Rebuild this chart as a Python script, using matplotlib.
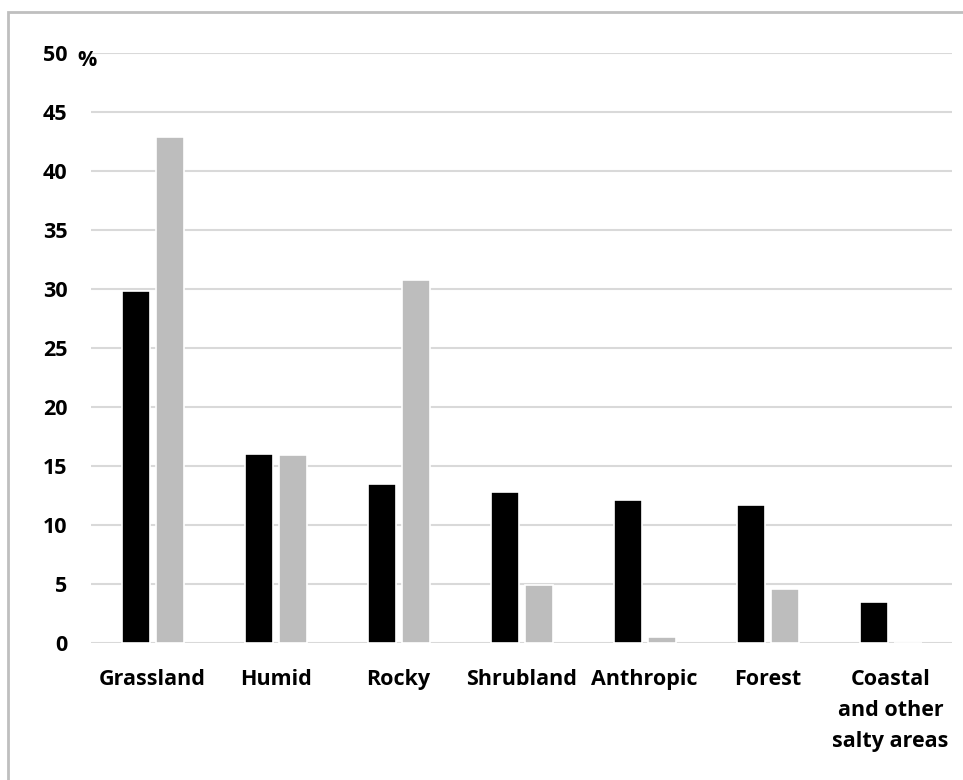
#!/usr/bin/env python3

# bar chart of habitat shares, two series (black / grey)

import numpy as np
import matplotlib.pyplot as plt
from matplotlib.patches import Rectangle

categories = [
    "Grassland",
    "Humid",
    "Rocky",
    "Shrubland",
    "Anthropic",
    "Forest",
    "Coastal\nand other\nsalty areas",
]
series_black = [29.8, 16.0, 13.5, 12.8, 12.1, 11.7, 3.5]
series_grey = [42.9, 15.9, 30.8, 4.9, 0.5, 4.6, 0.0]
yticks = [0, 5, 10, 15, 20, 25, 30, 35, 40, 45, 50]

FS = 15.5

params = {
    "font.family": ["Open Sans", "DejaVu Sans"],
    "font.weight": "bold",
    "font.size": FS,
}
plt.rcParams.update(params)

W, H = 963, 780
fig = plt.figure(figsize=(W / 100, H / 100), dpi=100)

# axes placed in pixels: x 91..952, y 53..643
ax = fig.add_axes([91 / W, 1 - 643 / H, (952 - 91) / W, (643 - 53) / H])

x = np.arange(len(categories))
bw = 0.225
ax.bar(x - 0.135, series_black, width=bw, color="black",
       edgecolor="white", linewidth=1.2, zorder=3)
ax.bar(x + 0.14, series_grey, width=bw, color="#bdbdbd",
       edgecolor="white", linewidth=1.2, zorder=3)

ax.set_xlim(-0.5, len(categories) - 0.5)
ax.set_ylim(0, 50)
ax.set_yticks(yticks)
ax.set_yticklabels([str(t) for t in yticks], fontweight="bold", fontsize=FS)
ax.set_xticks(x)
ax.set_xticklabels(categories, fontweight="bold", fontsize=FS,
                   linespacing=1.6, va="top")
ax.tick_params(axis="both", length=0)
ax.tick_params(axis="y", pad=17)
ax.tick_params(axis="x", pad=19)

ax.yaxis.grid(True, color="#d9d9d9", linewidth=1.5, zorder=0)
ax.set_axisbelow(True)
for s in ax.spines.values():
    s.set_visible(False)

ax.text(77 / W, 1 - 61 / H, "%", transform=fig.transFigure,
        fontsize=FS, fontweight="bold", va="center", ha="left")

# light grey frame around the figure
frame = Rectangle((8 / W, -0.05), 1.1, 1 - 12 / H + 0.05,
                  transform=fig.transFigure, fill=False,
                  edgecolor="#bfbfbf", linewidth=2)
fig.patches.append(frame)

fig.savefig("out.png", dpi=100)
